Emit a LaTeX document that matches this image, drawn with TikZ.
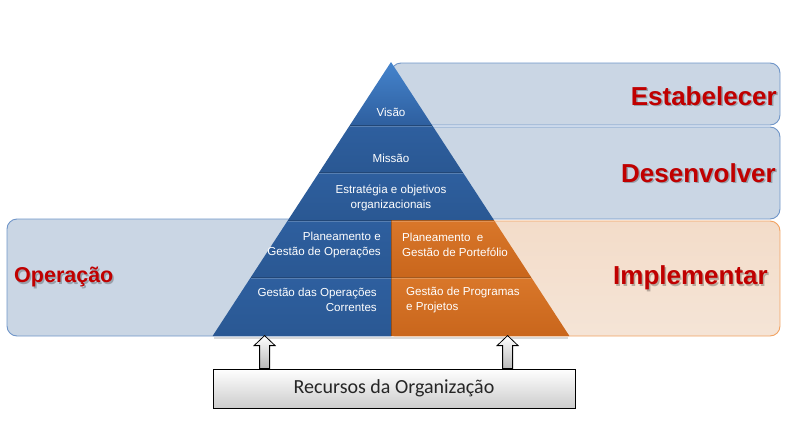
\documentclass[tikz,border=0pt]{standalone}
\usepackage{fontspec}
\setmainfont{Liberation Sans}
\newfontfamily\boxfont{Carlito}
\usetikzlibrary{calc}
\definecolor{bandblue}{HTML}{CAD6E4}
\definecolor{bandblueedge}{HTML}{6F95C8}
\definecolor{bandorange}{HTML}{F3DCC9}
\definecolor{bandorangeedge}{HTML}{F2A261}
\definecolor{pyrblue}{HTML}{2E5F9F}
\definecolor{pyrbluedark}{HTML}{2A5893}
\definecolor{pyrbluelight}{HTML}{4584CD}
\definecolor{pyrorange}{HTML}{D9772A}
\definecolor{pyrorangedark}{HTML}{C9661C}
\definecolor{labelred}{HTML}{C00000}
\begin{document}
\begin{tikzpicture}[x=1pt,y=-1pt,
  band/.style={rounded corners=10pt, line width=0.9pt},
  blueband/.style={band, draw=bandblueedge, fill=bandblue},
  orangeband/.style={band, draw=bandorangeedge, top color=bandorange, bottom color=bandorange!90!brown!60!white},
  bluepiece/.style={top color=pyrblue, bottom color=pyrbluedark},
  orangepiece/.style={top color=pyrorange, bottom color=pyrorangedark},
  divider/.style={draw=black, draw opacity=0.25, line width=0.8pt},
  bigred/.style={font=\fontsize{26}{28}\selectfont\bfseries, text=labelred, inner sep=0pt},
  bigshadow/.style={font=\fontsize{26}{28}\selectfont\bfseries, text=black, text opacity=0.25, inner sep=0pt},
  pyrtext/.style={font=\fontsize{11.6}{15}\selectfont, text=white, inner sep=0pt},
  blockarrow/.style={draw=black, line width=0.8pt, top color=white, bottom color=gray!55},
]
\useasboundingbox (0,0) rectangle (790,426);

% background bands
\draw[blueband] (391,63) rectangle (780,125);
\draw[blueband] (391,127) rectangle (780,219);
\draw[blueband] (7,219) rectangle (400,336);
\draw[orangeband] (385,221) rectangle (780,336);

% pyramid
\path[top color=pyrbluelight, bottom color=pyrblue] (391,62) -- (432,125) -- (350,125) -- cycle;
\path[bluepiece] (350,125) -- (432,125) -- (462.6,172) -- (319.4,172) -- cycle;
\path[bluepiece] (319.4,172) -- (462.6,172) -- (493.9,220) -- (288.1,220) -- cycle;
\path[bluepiece] (288.1,220) -- (391,220) -- (391,277) -- (251,277) -- cycle;
\path[bluepiece] (251,277) -- (391,277) -- (391,336) -- (212.6,336) -- cycle;
\path[orangepiece] (391,220) -- (493.9,220) -- (531,277) -- (391,277) -- cycle;
\path[orangepiece] (391,277) -- (531,277) -- (569.4,336) -- (391,336) -- cycle;
\draw[divider] (350,125.5) -- (432,125.5);
\draw[divider] (319.4,172.5) -- (462.6,172.5);
\draw[divider] (288.1,220.5) -- (493.9,220.5);
\draw[divider] (251,277.5) -- (531,277.5);
\draw[draw=white, draw opacity=0.2, line width=0.6pt] (350,126.5) -- (432,126.5);
\draw[draw=white, draw opacity=0.2, line width=0.6pt] (319.4,173.5) -- (462.6,173.5);
\draw[draw=white, draw opacity=0.2, line width=0.6pt] (288.1,221.5) -- (493.9,221.5);
\draw[draw=white, draw opacity=0.2, line width=0.6pt] (251,278.5) -- (531,278.5);
\draw[draw=black, draw opacity=0.25, line width=0.8pt] (391,220) -- (391,336);
\draw[draw=black, draw opacity=0.15, line width=2pt] (214,337.5) -- (568,337.5);

% pyramid texts
\node[pyrtext] (visao) at (391,112) {Visão};
\node[pyrtext] (missao) at (391,158) {Missão};
\node[pyrtext, align=center] (estrategia) at (391,198) {Estratégia e objetivos\\organizacionais};
\node[pyrtext, align=right, anchor=east] (planop) at (381,245) {Planeamento e\\Gestão de Operações};
\node[pyrtext, align=right, anchor=east] (gestop) at (377,300) {Gestão das Operações\\Correntes};
\node[pyrtext, align=left, anchor=west] (planport) at (402,245) {Planeamento\ \ e\\Gestão de Portefólio};
\node[pyrtext, align=left, anchor=west] (gestprog) at (406,300) {Gestão de Programas\\e Projetos};

% big labels
\node[bigshadow, anchor=east] (estS) at (778.5,97.5) {Estabelecer};
\node[bigred, anchor=east] (est) at (777,96) {Estabelecer};
\node[bigshadow, anchor=east] (desS) at (777.5,174.5) {Desenvolver};
\node[bigred, anchor=east] (des) at (776,173) {Desenvolver};
\node[bigshadow, anchor=east] (impS) at (769.5,279.5) {Implementar};
\node[bigred, anchor=east] (imp) at (768,278) {Implementar};
\node[bigshadow, anchor=west, font=\fontsize{21.5}{24}\selectfont\bfseries] (opS) at (15.5,278.5) {Operação};
\node[bigred, anchor=west, font=\fontsize{21.5}{24}\selectfont\bfseries] (op) at (14,277) {Operação};

% resources box
\node[draw=black, line width=0.8pt, top color=white, bottom color=gray!40,
      minimum width=362pt, minimum height=39pt, inner sep=0pt,
      font=\boxfont\fontsize{20}{22}\selectfont, text=black!85] (box) at (394,388.5) {Recursos da Organização};

% block arrows
\coordinate (a1) at ($(box.north west)+(52,0)$);
\coordinate (a2) at ($(box.north west)+(295,0)$);
\foreach \c in {a1,a2}{
  \path[blockarrow] (\c) ++(-5,0) -- ++(0,-23) -- ++(-5.5,0) -- ++(10.5,-10) -- ++(10.5,10) -- ++(-5.5,0) -- ++(0,23) -- cycle;
}
\end{tikzpicture}
\end{document}
